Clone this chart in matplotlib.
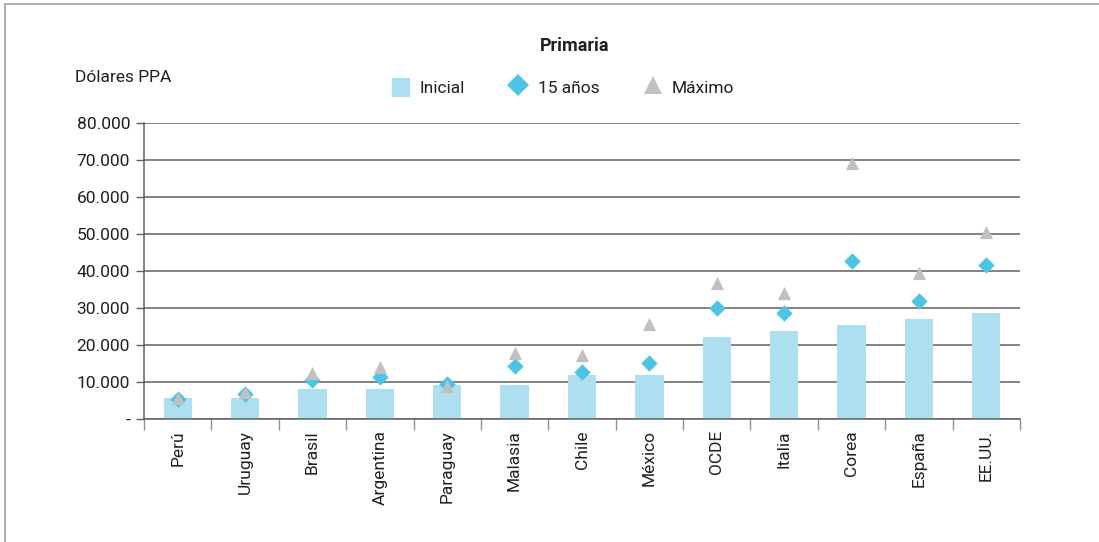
import matplotlib
matplotlib.use("Agg")
import matplotlib.pyplot as plt
from matplotlib.patches import Rectangle
from matplotlib.lines import Line2D
import numpy as np
from matplotlib import font_manager

paises = ["Perú", "Uruguay", "Brasil", "Argentina", "Paraguay", "Malasia", "Chile",
          "México", "OCDE", "Italia", "Corea", "España", "EE.UU."]
inicial = [5700, 5700, 8100, 8100, 9200, 9200, 11900, 11900, 22200, 23800, 25400, 27000, 28600]
quince = [5500, 6700, 10500, 11400, 9500, 14300, 12700, 15200, 30000, 28600, 42700, 31900, 41700]
maximo = [5800, 7300, 12400, 14000, 8900, 17800, 17300, 25700, 36700, 34100, 69200, 39400, 50500]
yticks = [0, 10000, 20000, 30000, 40000, 50000, 60000, 70000, 80000]
ylabels = ["-", "10.000", "20.000", "30.000", "40.000", "50.000", "60.000", "70.000", "80.000"]

avail = {f.name for f in font_manager.fontManager.ttflist}
fam = [f for f in ["Liberation Sans Narrow", "Roboto", "DejaVu Sans"] if f in avail]
plt.rcParams['font.family'] = fam
if "Liberation Sans Narrow" not in avail and "Roboto" in avail:
    pass

c_bar = "#aedff0"
c_dia = "#4dc3e6"
c_tri = "#c0c0c2"
c_txt = "#231f20"

fig = plt.figure(figsize=(10.99, 5.42), dpi=100)
ax = fig.add_axes([144/1099, 1-419/542, (1020-144)/1099, (419-123)/542])

x = np.arange(len(paises))
ax.bar(x, inicial, width=0.42, color=c_bar, zorder=2)
ax.scatter(x, quince, marker="D", s=70, color=c_dia, zorder=3, linewidths=0)
ax.scatter(x, maximo, marker="^", s=90, color=c_tri, zorder=4, linewidths=0)

ax.set_xlim(-0.5, len(paises)-0.5)
ax.set_ylim(0, 80000)
ax.set_yticks(yticks)
ax.set_yticklabels(ylabels, fontsize=12.5, color=c_txt)
ax.yaxis.grid(True, color="#606060", linewidth=1.1, zorder=0)
ax.set_axisbelow(True)
ax.tick_params(axis="y", length=6, color="#606060", width=1, pad=4)

ax.set_xticks(np.arange(-0.5, len(paises), 1.0))
ax.set_xticklabels([])
ax.set_xticks(x, minor=True)
ax.set_xticklabels(paises, minor=True, rotation=90, fontsize=12.5, color=c_txt)
ax.tick_params(axis="x", which="major", length=8, color="#909090", width=1)
ax.tick_params(axis="x", which="minor", length=0, pad=8)

for s in ["top", "right"]:
    ax.spines[s].set_visible(False)
for s in ["left", "bottom"]:
    ax.spines[s].set_color("#606060")
    ax.spines[s].set_linewidth(1.1)

fig.text(575/1099, 1-46/542, "Primaria", ha="center", va="center", fontsize=13,
         fontweight="bold", color=c_txt)
fig.text(75/1099, 1-77/542, "Dólares PPA", ha="left", va="center", fontsize=12.5, color=c_txt)

handles = [
    Rectangle((0, 0), 1, 1, color=c_bar),
    Line2D([], [], marker="D", linestyle="", color=c_dia, markersize=11, markeredgewidth=0),
    Line2D([], [], marker="^", linestyle="", color=c_tri, markersize=13, markeredgewidth=0),
]
fig.legend(handles, ["Inicial", "15 años", "Máximo"], loc="center", ncol=3,
           bbox_to_anchor=(563/1099, 1-87/542), frameon=False, fontsize=12.5,
           handlelength=1.0, handleheight=1.3, handletextpad=0.6, columnspacing=2.6,
           labelcolor=c_txt)

fig.add_artist(Rectangle((5/1099, -0.01), 1.1, 1-4/542+0.01, transform=fig.transFigure,
                         fill=False, edgecolor="#a0a0a0", linewidth=1.2))

fig.savefig("out.png", dpi=100)
